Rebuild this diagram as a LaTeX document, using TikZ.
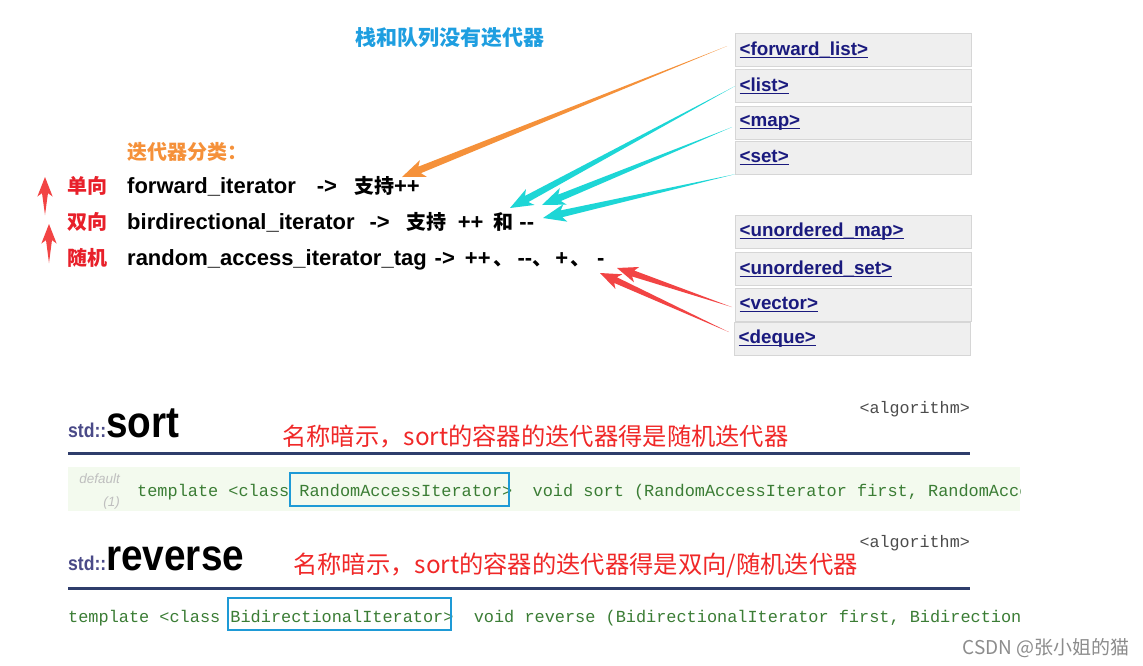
\documentclass[tikz,border=0pt]{standalone}
\usepackage{fontspec}
\usepackage{graphicx}
\setmainfont{Liberation Sans}
\newfontfamily\cjk{Noto Sans CJK SC}
\newfontfamily\codefont{Liberation Mono}
\usetikzlibrary{calc,positioning}
\definecolor{titleblue}{HTML}{1E9EE0}
\definecolor{catorange}{HTML}{F5913A}
\definecolor{lblred}{HTML}{E8202A}
\definecolor{notered}{HTML}{F02828}
\definecolor{arrred}{HTML}{F24444}
\definecolor{arrcyan}{HTML}{1DD6D6}
\definecolor{linknavy}{HTML}{1A1A7E}
\definecolor{boxgray}{HTML}{EFEFEF}
\definecolor{boxline}{HTML}{D6D6D6}
\definecolor{rulenavy}{HTML}{2F3D6B}
\definecolor{codegreen}{HTML}{3B7D35}
\definecolor{bandgreen}{HTML}{F3FAEE}
\definecolor{hlblue}{HTML}{1E9AD6}
\definecolor{stdblue}{HTML}{4A4A88}

% underlined link text
\newcommand{\lnk}[1]{\setbox0\hbox{#1}\rlap{\rule[-2.5pt]{\wd0}{1.4pt}}\box0}
\newcommand{\zh}[1]{{\cjk\fontsize{20}{24}\selectfont #1}}

% tapered arrow: [size], colour, tail, tip
\newcommand{\taper}[4][1]{%
  \path (#3) coordinate (tl) (#4) coordinate (tp);
  \path ($(tp)!{19pt*#1}!(tl)$) coordinate (nk) ($(tp)!{23pt*#1}!(tl)$) coordinate (bb);
  \fill[#2] (tl) -- ($(nk)!{3.5pt*#1}!90:(tp)$) -- ($(bb)!{9pt*#1}!90:(tp)$) -- (tp)
    -- ($(bb)!{9pt*#1}!-90:(tp)$) -- ($(nk)!{3.5pt*#1}!-90:(tp)$) -- cycle;
}

\begin{document}
\begin{tikzpicture}[x=1pt, y=-1pt,
    hdr/.style={draw=boxline, line width=1.2pt, fill=boxgray, anchor=north west,
      minimum height=33pt, text width=228pt, inner xsep=4pt, inner ysep=0pt,
      font=\fontsize{18.8}{22}\selectfont\bfseries, text=linknavy},
    txt/.style={anchor=base west, inner sep=0pt, font=\fontsize{22}{26}\selectfont\bfseries},
    tag/.style={txt, font=\cjk\fontsize{20}{24}\selectfont\bfseries, text=lblred},
    note/.style={anchor=base west, inner sep=0pt, font=\cjk\fontsize{24.3}{28}\selectfont, text=notered},
    code/.style={anchor=base west, inner sep=0pt, font=\codefont\fontsize{16.9}{20}\selectfont, text=codegreen},
    algo/.style={anchor=base east, inner sep=0pt, font=\codefont\fontsize{16.7}{20}\selectfont, text=black!70},
    fname/.style={anchor=base west, inner sep=0pt, font=\bfseries}]
    \fill[white] (0,0) rectangle (1143,665);
    \useasboundingbox (0,0) rectangle (1143,665);

    \node[anchor=base, inner sep=0pt, font=\cjk\fontsize{21}{24}\selectfont\bfseries, text=titleblue] (title) at (450,45) {栈和队列没有迭代器};

    % 头文件
    \node[hdr] (flist) at (735,33) {\lnk{<forward\_list>}};
    \node[hdr] (list) at (735,69) {\lnk{<list>}};
    \node[hdr] (map) at (735,106) {\lnk{<map>}};
    \node[hdr] (set) at (735,141) {\lnk{<set>}};
    \node[hdr] (umap) at (735,215) {\lnk{<unordered\_map>}};
    \node[hdr] (uset) at (735,252) {\lnk{<unordered\_set>}};
    \node[hdr] (vec) at (735,288) {\lnk{<vector>}};
    \node[hdr] (deq) at (734,322) {\lnk{<deque>}};

    \node[txt, font=\cjk\fontsize{20}{24}\selectfont\bfseries, text=catorange] (cat) at (127,159) {迭代器分类：};
    \node[tag] (one) at (67,193) {单向};
    \node[tag] (two) at (67,229) {双向};
    \node[tag] (rnd) at (67,265) {随机};
    \node[txt] (fwd) at (127,193) {forward\_iterator\hspace{21pt}->\hspace{17pt}\zh{支持}++};
    \node[txt] (bid) at (127,229) {birdirectional\_iterator\hspace{15pt}->\hspace{17pt}\zh{支持}\hspace{11pt}++\hspace{10pt}\zh{和}\hspace{6pt}-{}-};
    \node[txt] (ra) at (127,265) {random\_access\_iterator\_tag\hspace{8pt}->\hspace{10pt}++\hspace{3pt}\zh{、}\hspace{4pt}-{}-\zh{、}\hspace{3pt}+\hspace{2pt}\zh{、}\hspace{7pt}-};

    % sort
    \node[algo] (alg1) at (970,413) {<algorithm>};
    \node[fname] (sortname) at (68,437) {\scalebox{0.88}[1]{{\fontsize{20}{24}\selectfont\color{stdblue}std::}{\fontsize{44}{50}\selectfont sort}}};
    \node[note] (sortnote) at (282,445) {名称暗示，sort的容器的迭代器得是随机迭代器};
    \draw[rulenavy, line width=3pt] (68,453) -- (970,453);
    \fill[bandgreen] (68,467) rectangle (1020,511);
    \node[anchor=base east, inner sep=0pt, font=\itshape\fontsize{13.5}{16}\selectfont, text=black!25] (dflt) at (120,483) {default};
    \node[anchor=base east, inner sep=0pt, font=\itshape\fontsize{13.5}{16}\selectfont, text=black!25] (ovl) at (120,506) {(1)};

    % reverse
    \node[algo] (alg2) at (970,547) {<algorithm>};
    \node[fname] (revname) at (68,570) {\scalebox{0.88}[1]{{\fontsize{20}{24}\selectfont\color{stdblue}std::}{\fontsize{44}{50}\selectfont reverse}}};
    \node[note] (revnote) at (293,573) {名称暗示，sort的容器的迭代器得是双向/随机迭代器};
    \draw[rulenavy, line width=3pt] (68,588) -- (970,588);

    \begin{scope}
      \clip (60,460) rectangle (1020,640);
      \node[code] (sortcode) at (137,496) {template <class RandomAccessIterator>\ \ void sort (RandomAccessIterator first, RandomAccessIterator last);};
      \node[code] (revcode) at (68,622) {template <class BidirectionalIterator>\ \ void reverse (BidirectionalIterator first, BidirectionalIterator last);};
    \end{scope}
    \draw[hlblue, line width=2pt] (290,473) rectangle (509,506);
    \draw[hlblue, line width=2pt] (228,598) rectangle (451,630);

    \node[anchor=base east, inner sep=0pt, font=\cjk\fontsize{19}{22}\selectfont, text=black!45] (mark) at (1130,654) {CSDN @张小姐的猫};

    % 箭头
    \coordinate (tipfwd) at (402,177);
    \coordinate (tipbi1) at (510,208);
    \coordinate (tipbi2) at (542,205);
    \coordinate (tipbi3) at (543,218);
    \coordinate (tipra1) at (617,268);
    \coordinate (tipra2) at (600,273);
    \coordinate (upa1) at (45,215);
    \coordinate (upa2) at (45,177);
    \coordinate (upb1) at (49,263);
    \coordinate (upb2) at (49,224);
    \taper{catorange}{[xshift=-8pt,yshift=4pt]flist.west}{tipfwd}
    \taper{arrcyan}{list.west}{tipbi1}
    \taper{arrcyan}{[xshift=-3pt,yshift=-4pt]map.west}{tipbi2}
    \taper{arrcyan}{[yshift=1pt]set.south west}{tipbi3}
    \taper[0.9]{arrred}{[xshift=-3pt,yshift=-2pt]vec.west}{tipra1}
    \taper[0.9]{arrred}{[xshift=-5pt,yshift=7pt]deq.west}{tipra2}
    \taper[0.85]{arrred}{upa1}{upa2}
    \taper[0.85]{arrred}{upb1}{upb2}
\end{tikzpicture}
\end{document}
